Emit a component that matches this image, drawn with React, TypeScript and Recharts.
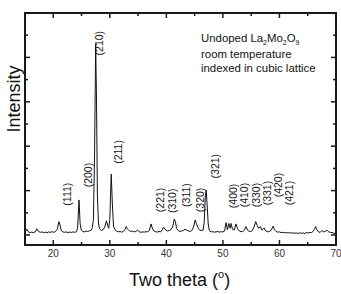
import { LineChart, Line, XAxis, YAxis, ReferenceDot, ReferenceArea, Customized } from 'recharts'

const FONT = '"Liberation Sans", Arial, sans-serif'
const INK = '#1a1a1a'

const twoTheta = [
  15.0, 15.3, 15.6, 15.9, 16.2, 16.5, 16.8, 17.1, 17.4, 17.7, 18.0, 18.3, 18.6, 18.9, 19.2, 19.5, 19.8,
  20.1, 20.4, 20.7, 21.0, 21.2, 21.4, 21.7, 22.0, 22.3, 22.6, 22.9, 23.2, 23.5, 23.8, 24.1, 24.3, 24.55,
  24.75, 24.95, 25.2, 25.5, 25.8, 26.1, 26.4, 26.7, 26.9, 27.1, 27.3, 27.5, 27.65, 27.8, 28.0, 28.2, 28.5,
  28.8, 29.1, 29.4, 29.6, 29.8, 30.0, 30.25, 30.45, 30.65, 30.9, 31.2, 31.5, 31.8, 32.1, 32.4, 32.7, 32.9,
  33.1, 33.4, 33.7, 34.0, 34.3, 34.6, 34.9, 35.2, 35.5, 35.8, 36.1, 36.4, 36.7, 37.0, 37.3, 37.5, 37.8,
  38.1, 38.4, 38.7, 39.0, 39.3, 39.5, 39.7, 39.9, 40.2, 40.5, 40.8, 41.1, 41.4, 41.6, 41.8, 42.1, 42.4,
  42.7, 43.0, 43.3, 43.6, 43.9, 44.2, 44.5, 44.8, 45.1, 45.3, 45.5, 45.7, 45.9, 46.2, 46.5, 46.7, 46.9,
  47.05, 47.2, 47.4, 47.6, 47.9, 48.2, 48.5, 48.8, 49.1, 49.4, 49.7, 50.0, 50.3, 50.55, 50.8, 51.05, 51.3,
  51.45, 51.7, 52.0, 52.3, 52.6, 52.9, 53.2, 53.5, 53.8, 54.1, 54.35, 54.6, 54.9, 55.2, 55.5, 55.8, 56.05,
  56.3, 56.6, 56.9, 57.1, 57.3, 57.5, 57.8, 58.1, 58.4, 58.65, 58.9, 59.1, 59.4, 59.7, 60.0, 60.3, 60.6,
  60.9, 61.2, 61.5, 61.8, 62.1, 62.4, 62.7, 63.0, 63.3, 63.6, 63.9, 64.2, 64.5, 64.8, 65.1, 65.4, 65.7,
  66.0, 66.2, 66.4, 66.6, 66.9, 67.2, 67.5, 67.8, 68.1, 68.4, 68.7, 69.0, 69.3, 69.6, 70.0,
]

const counts = [
  60, 135, 70, 55, 65, 50, 70, 140, 80, 60, 70, 55, 65, 50, 70, 60, 75,
  60, 80, 130, 300, 220, 100, 70, 60, 70, 55, 65, 60, 70, 60, 75, 150, 790,
  250, 110, 80, 70, 90, 80, 95, 110, 160, 350, 1800, 4300, 3000, 900, 250, 140, 100,
  120, 180, 320, 220, 150, 350, 1370, 700, 200, 120, 90, 70, 80, 65, 80, 130, 190,
  140, 100, 80, 90, 70, 80, 110, 75, 60, 70, 65, 75, 70, 110, 250, 160, 90,
  75, 65, 80, 70, 120, 180, 140, 110, 90, 100, 120, 180, 360, 300, 150, 100, 80,
  90, 100, 130, 110, 90, 80, 100, 180, 340, 260, 200, 140, 110, 100, 110, 300, 900,
  1010, 700, 250, 100, 70, 75, 65, 70, 80, 65, 75, 70, 90, 280, 120, 260, 150,
  260, 130, 110, 250, 140, 90, 80, 75, 110, 190, 110, 85, 80, 100, 180, 300, 220,
  150, 190, 110, 130, 160, 100, 80, 70, 90, 140, 200, 120, 80, 65, 70, 55, 60,
  50, 55, 45, 55, 40, 50, 40, 45, 35, 50, 40, 45, 35, 55, 45, 60, 55,
  90, 130, 190, 120, 70, 60, 100, 70, 80, 110, 70, 60, 55, 40, 30,
]

const peakLabels = ['(111)', '(200)', '(210)', '(211)', '(221)', '(310)', '(311)', '(320)', '(321)', '(400)', '(410)', '(330)', '(331)', '(420)', '(421)']
const labelAngles = [22.4, 26.15, 28.05, 31.5, 38.9, 40.95, 43.45, 45.95, 48.6, 51.8, 53.75, 55.9, 57.85, 59.8, 61.75]
const labelHeights = [920, 1350, 4320, 1870, 790, 770, 900, 790, 1550, 880, 900, 900, 945, 1125, 945]

const X_MIN = 15
const X_MAX = 70
const Y_MIN = -225
const Y_MAX = 5000
const xMajor = [20, 30, 40, 50, 60, 70]
const xTicks = [20, 25, 30, 35, 40, 45, 50, 55, 60, 65, 70]
const yTicks = [0, 500, 1000, 1500, 2000, 2500, 3000, 3500, 4000, 4500, 5000]

const data = twoTheta.map((t, i) => ({ t, v: counts[i] }))

// tick mark drawn from an anchor point on the frame, pointing inward
const tickShape = (dx: number, dy: number) => (p: any) => (
  <path d={`M${p.cx},${p.cy}L${p.cx + dx},${p.cy + dy}`} fill="none" stroke={INK} strokeWidth={1.5} />
)

function Annotations() {
  return (
    <g fontFamily={FONT}>
      {/* plot frame */}
      <rect x={25} y={13} width={311} height={232} fill="none" stroke={INK} strokeWidth={1.8} />
      <text x={201} y={42} fontSize={11.4} fill="#111">
        Undoped La<tspan fontSize={7} dy={3}>2</tspan>
        <tspan dy={-3}>Mo</tspan>
        <tspan fontSize={7} dy={3}>2</tspan>
        <tspan dy={-3}>O</tspan>
        <tspan fontSize={7} dy={3}>9</tspan>
      </text>
      <text x={201} y={58} fontSize={11.4} fill="#111">room temperature</text>
      <text x={201} y={72} fontSize={11.4} fill="#111">indexed in cubic lattice</text>
      <text x={20} y={99} fontSize={18} fill="#111" textAnchor="middle" transform="rotate(-90 20 99)">
        Intensity
      </text>
      <text x={129} y={286} fontSize={18} fill="#111">
        Two theta (<tspan fontSize={11} dy={-8}>o</tspan>
        <tspan dy={8}>)</tspan>
      </text>
    </g>
  )
}

export default function App() {
  const len = (major: boolean) => (major ? 5 : 3)
  const tick = (key: string, x: number, y: number, dx: number, dy: number) => (
    <ReferenceDot key={key} xAxisId="x" yAxisId="y" x={x} y={y} r={0} ifOverflow="visible" shape={tickShape(dx, dy)} />
  )

  return (
    <div style={{ position: 'absolute', left: 0, top: 0 }}>
      <LineChart width={341} height={294} data={data} margin={{ top: 13, right: 5, bottom: 0, left: 24 }}>
        <XAxis
          xAxisId="x"
          dataKey="t"
          type="number"
          domain={[X_MIN, X_MAX]}
          ticks={xMajor}
          interval={0}
          height={49}
          tickSize={0}
          tickMargin={5}
          tickLine={false}
          axisLine={{ stroke: INK, strokeWidth: 1.8 }}
          tick={{ fontSize: 10, fill: '#333', fontFamily: FONT }}
        />
        <YAxis
          yAxisId="y"
          type="number"
          domain={[Y_MIN, Y_MAX]}
          width={1}
          tick={false}
          tickLine={false}
          axisLine={{ stroke: INK, strokeWidth: 1.8 }}
        />
        <ReferenceArea
          xAxisId="x"
          yAxisId="y"
          x1={X_MIN}
          x2={X_MAX}
          y1={Y_MIN}
          y2={Y_MAX}
          fill="none"
          stroke={INK}
          strokeWidth={1.8}
          ifOverflow="visible"
        />
        <Line
          xAxisId="x"
          yAxisId="y"
          dataKey="v"
          type="linear"
          stroke="#111"
          strokeWidth={1}
          dot={false}
          isAnimationActive={false}
        />
        {xTicks.map((v) => tick(`b${v}`, v, Y_MIN, 0, -len(v % 10 === 0)))}
        {xTicks.map((v) => tick(`t${v}`, v, Y_MAX, 0, len(v % 10 === 0)))}
        {yTicks.map((v) => tick(`l${v}`, X_MIN, v, len(v % 1000 === 0), 0))}
        {yTicks.map((v) => tick(`r${v}`, X_MAX, v, -len(v % 1000 === 0), 0))}
        {peakLabels.map((lab, i) => (
          <ReferenceDot
            key={lab}
            xAxisId="x"
            yAxisId="y"
            x={labelAngles[i]}
            y={labelHeights[i]}
            r={0}
            shape={(p: any) => (
              <text
                x={p.cx}
                y={p.cy}
                transform={`rotate(-90 ${p.cx} ${p.cy})`}
                textAnchor="middle"
                dominantBaseline="central"
                fontSize={10.5}
                fill="#111"
                fontFamily={FONT}
              >
                {lab}
              </text>
            )}
          />
        ))}
        <Customized component={<Annotations />} />
      </LineChart>
    </div>
  )
}
